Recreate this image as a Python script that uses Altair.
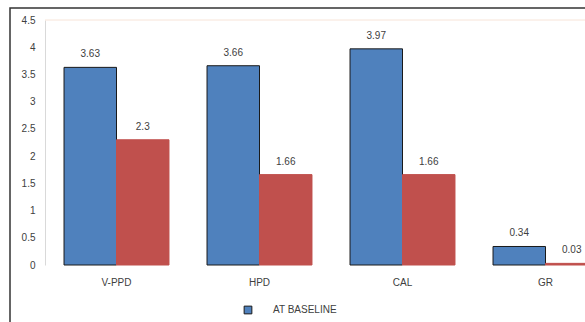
import altair as alt
import pandas as pd

categories = ["V-PPD", "HPD", "CAL", "GR"]
baseline = [3.63, 3.66, 3.97, 0.34]
after = [2.3, 1.66, 1.66, 0.03]
series_names = ["AT BASELINE", "AFTER TREATMENT"]
y_ticks = [0, 0.5, 1, 1.5, 2, 2.5, 3, 3.5, 4, 4.5]

rows = []
for c, b, a in zip(categories, baseline, after):
    rows.append({"cat": c, "series": series_names[0], "value": b, "label": f"{b:g}"})
    rows.append({"cat": c, "series": series_names[1], "value": a, "label": f"{a:g}"})
df = pd.DataFrame(rows)

FONT = "Liberation Sans"
GRAY = "#404040"

xscale = alt.Scale(domain=categories, range=[0, 572], paddingInner=0.266, paddingOuter=0.133)
yscale = alt.Scale(domain=[0, 4.5], nice=False)

base = alt.Chart(df).encode(
    x=alt.X("cat:N", scale=xscale, sort=categories,
            axis=alt.Axis(title=None, labelAngle=0, domain=False, ticks=False,
                          labelPadding=12, labelFontSize=10, labelColor=GRAY, labelFont=FONT)),
    xOffset=alt.XOffset("series:N", sort=series_names, scale=alt.Scale(domain=series_names, paddingInner=0)),
    y=alt.Y("value:Q", scale=yscale,
            axis=alt.Axis(title=None, values=y_ticks, format="~g", grid=False, ticks=False, domain=True,
                          domainColor="#d9d9d9", labelPadding=10, labelFontSize=10,
                          labelColor=GRAY, labelFont=FONT)),
)

bars = base.mark_bar(strokeWidth=1).encode(
    color=alt.Color("series:N", sort=series_names,
                    scale=alt.Scale(domain=series_names, range=["#4F81BD", "#C0504D"]),
                    legend=alt.Legend(title=None, values=["AT BASELINE"], orient="none",
                                      legendX=198, legendY=285, symbolType="square",
                                      symbolSize=60, symbolStrokeColor="#1a1a1a",
                                      symbolStrokeWidth=1, labelFontSize=10,
                                      labelColor=GRAY, labelFont=FONT, labelOffset=20)),
    stroke=alt.Stroke("series:N", sort=series_names,
                      scale=alt.Scale(domain=series_names, range=["#1a1a1a", "#C0504D"]),
                      legend=None),
)

labels = base.mark_text(baseline="bottom", dy=-8, fontSize=10, color=GRAY, font=FONT).encode(
    text="label:N"
)

frame = alt.Chart(pd.DataFrame({"k": [0]})).mark_rect(
    fill=None, stroke="#333333", strokeWidth=1.5
).encode(
    x=alt.value(-35), x2=alt.value(700), y=alt.value(-12), y2=alt.value(400)
)

top_line = alt.Chart(pd.DataFrame({"k": [0]})).mark_rule(color="#f7e4d8", strokeWidth=1).encode(
    x=alt.value(0), x2=alt.value(700), y=alt.value(0)
)

chart = alt.layer(frame, top_line, bars, labels).properties(
    width=540, height=245,
    padding={"left": 45, "top": 20, "right": 0, "bottom": 57},
    autosize=alt.AutoSizeParams(type="none"),
    background="white",
).configure_view(stroke=None)

chart.save("out.html", embed_options={"renderer": "svg", "actions": False})
